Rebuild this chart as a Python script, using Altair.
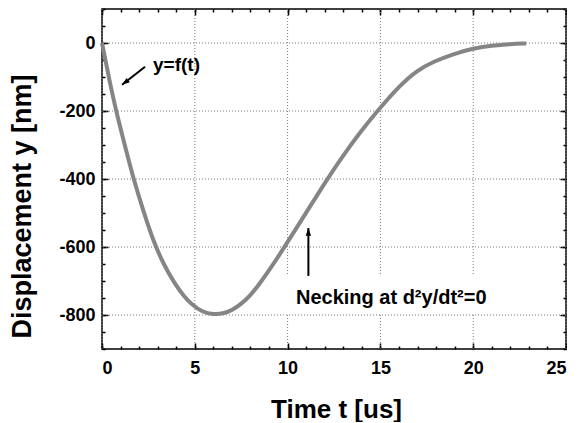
import altair as alt
import pandas as pd

# ---- data ----
t_us = [0, 0.4, 0.78, 1.25, 1.7, 2.25, 2.8, 3.35, 3.93, 4.4, 4.85, 5.4, 6.0,
        6.6, 7.0, 7.5, 8.0, 8.5, 9.15, 9.8, 10.9, 12.1, 13.0, 13.9, 14.8,
        16.05, 17.0, 17.8, 19.0, 20.0, 21.0, 22.0, 22.85]
disp_nm = [0, -110, -205, -305, -400, -498, -588, -654, -709, -744, -770, -791, -799,
           -795, -786, -768, -742, -708, -657, -603, -508, -403, -330, -263, -202,
           -124, -80, -56, -31, -16, -7, -3, -1.5]

x_major = [0, 5, 10, 15, 20, 25]
x_minor = list(range(0, 26))
y_major = [-800, -600, -400, -200, 0]
y_minor = list(range(-900, 101, 50))

# annotations
label_text = ["y=f(t)", "Necking at d²y/dt²=0"]
label_t = [2.75, 10.45]
label_y = [-64, -750]
label_size = [19, 20]
arrow_t_tail = [2.32, 11.12]
arrow_y_tail = [-70, -685]
arrow_t_tip = [1.08, 11.12]
arrow_y_tip = [-123, -544]
arrow_angle = [232, 0]
box_t = [9.8, 21.6]
box_y = [-683, -795]

W, H = 464, 340
FONT = "Liberation Sans"
GRID = "#7a7a7a"
MINUS = "replace(datum.label, '\u2212', '-')"

df = pd.DataFrame({"t": t_us, "y": disp_nm})
xs = alt.Scale(domain=[0, 25], nice=False, zero=False)
ys = alt.Scale(domain=[-900, 100], nice=False, zero=False)

xgrid = alt.Chart(pd.DataFrame({"gx": x_major})).mark_rule(
    color=GRID, strokeDash=[1, 2], strokeWidth=1
).encode(x=alt.X("gx:Q", scale=xs, axis=None))
ygrid = alt.Chart(pd.DataFrame({"gy": y_major})).mark_rule(
    color=GRID, strokeDash=[1, 2], strokeWidth=1
).encode(y=alt.Y("gy:Q", scale=ys, axis=None))

main = alt.Chart(df).mark_line(color="#858585", strokeWidth=4, interpolate="basis").encode(
    x=alt.X("t:Q", scale=xs, axis=alt.Axis(
        values=x_major, title="Time t [us]", ticks=False, tickSize=0, labelPadding=10,
        labelFontSize=18, labelFontWeight="bold", labelFont=FONT, labelColor="black",
        titleFontSize=26, titleFont=FONT, titleFontWeight="bold", titleColor="black",
        titleBaseline="alphabetic", titleY=68, titleX=234,
        domain=False, grid=False)),
    y=alt.Y("y:Q", scale=ys, axis=alt.Axis(
        values=y_major, title="Displacement y [nm]", ticks=False, tickSize=0, labelPadding=7,
        labelFontSize=18, labelFontWeight="bold", labelFont=FONT, labelColor="black",
        labelExpr=MINUS,
        titleFontSize=27, titleFont=FONT, titleFontWeight="bold", titleColor="black",
        titleX=-66, titleY=197,
        domain=False, grid=False)),
)


def tick_layer(xorient, yorient, xvals, yvals, size):
    common = dict(labels=False, domain=False, grid=False, title=None,
                  tickColor="black", tickWidth=1.5, tickSize=size)
    return alt.Chart(df).mark_line(strokeOpacity=0).encode(
        x=alt.X("t:Q", scale=xs, axis=alt.Axis(orient=xorient, offset=-H, values=xvals, **common)),
        y=alt.Y("y:Q", scale=ys, axis=alt.Axis(orient=yorient, offset=-W, values=yvals, **common)),
    )


ticks_a = tick_layer("top", "right", x_major, y_major, 6)
ticks_b = tick_layer("bottom", "left", x_major, y_major, 6)
ticks_c = tick_layer("top", "right", x_minor, y_minor, 3)
ticks_d = tick_layer("bottom", "left", x_minor, y_minor, 3)

box_df = pd.DataFrame({"t1": [box_t[0]], "t2": [box_t[1]], "y1": [box_y[0]], "y2": [box_y[1]]})
box = alt.Chart(box_df).mark_rect(fill="white").encode(
    x=alt.X("t1:Q", scale=xs, axis=None), x2="t2:Q",
    y=alt.Y("y1:Q", scale=ys, axis=None), y2="y2:Q",
)

arr_df = pd.DataFrame({"t1": arrow_t_tail, "y1": arrow_y_tail, "t2": arrow_t_tip,
                       "y2": arrow_y_tip, "ang": arrow_angle})
shafts = alt.Chart(arr_df).mark_rule(color="black", strokeWidth=2).encode(
    x=alt.X("t1:Q", scale=xs, axis=None), x2="t2:Q",
    y=alt.Y("y1:Q", scale=ys, axis=None), y2="y2:Q",
)
heads = alt.Chart(arr_df).mark_point(
    shape="M0,0L-0.45,1.3L0.45,1.3Z", filled=True, color="black", size=144, opacity=1
).encode(
    x=alt.X("t2:Q", scale=xs, axis=None),
    y=alt.Y("y2:Q", scale=ys, axis=None),
    angle=alt.Angle("ang:Q", scale=None),
)

lab_df = pd.DataFrame({"t": label_t, "y": label_y, "txt": label_text, "fs": label_size})
labels = alt.Chart(lab_df).mark_text(
    align="left", baseline="middle", font=FONT, fontWeight="bold", color="black"
).encode(
    x=alt.X("t:Q", scale=xs, axis=None),
    y=alt.Y("y:Q", scale=ys, axis=None),
    text="txt:N",
    size=alt.Size("fs:Q", scale=None, legend=None),
)

chart = alt.layer(
    xgrid, ygrid, main, ticks_a, ticks_b, ticks_c, ticks_d, box, shafts, heads, labels
).resolve_axis(x="independent", y="independent").properties(
    width=W, height=H, padding=0
).configure_view(stroke="black", strokeWidth=1.5)

chart.save("out.html", embed_options={"renderer": "svg", "actions": False})
